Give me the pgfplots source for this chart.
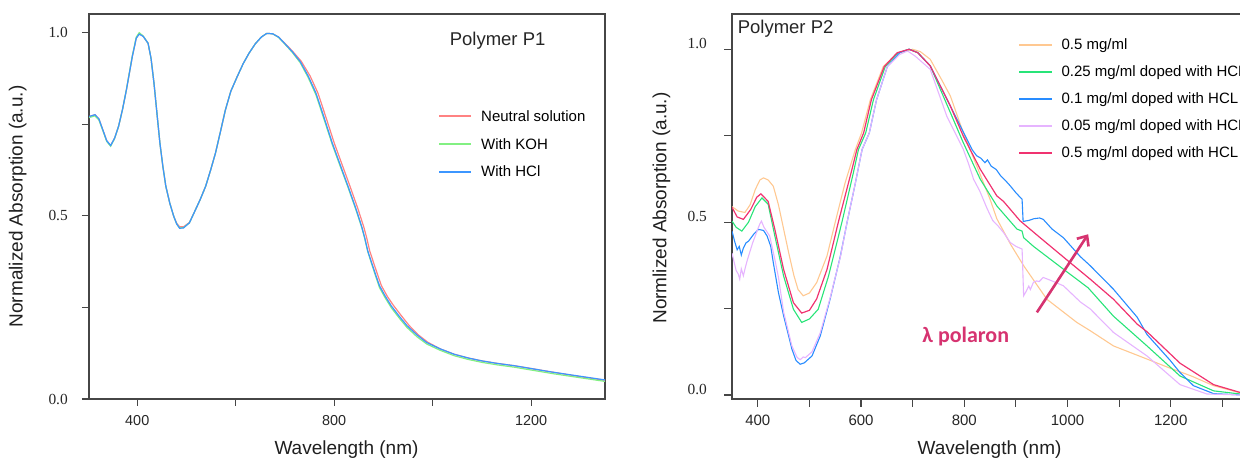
\documentclass[border=0pt]{standalone}
\usepackage{fontspec}
\setmainfont{Liberation Sans}
\newfontfamily\serifnum{Liberation Serif}
\newfontfamily\calib{Carlito}
\usepackage{pgfplots}
\pgfplotsset{compat=1.18}
\usetikzlibrary{arrows.meta}
\definecolor{pneutral}{RGB}{255,130,130}
\definecolor{pkoh}{RGB}{130,240,130}
\definecolor{phcl}{RGB}{60,150,255}
\definecolor{corange}{RGB}{255,200,145}
\definecolor{cgreen}{RGB}{40,228,120}
\definecolor{cblue}{RGB}{40,140,255}
\definecolor{cviolet}{RGB}{230,180,255}
\definecolor{cmag}{RGB}{240,50,112}
\definecolor{polar}{RGB}{214,51,112}
\definecolor{axc}{RGB}{70,70,70}
\pgfplotsset{
  base/.style={
    scale only axis,
    axis line style={axc, line width=0.6pt},
    tick style={axc, line width=0.6pt},
    tick align=outside, tick pos=left,
    minor tick num=0,
    xticklabel style={inner sep=0pt, anchor=north, text=black!85},
    yticklabel style={inner sep=0pt, anchor=east, text=black!85, font=\serifnum\fontsize{7.7}{9}\selectfont},
    label style={font=\fontsize{9.5}{11}\selectfont, text=black!88, inner sep=0pt},
    legend style={draw=none, fill=none, inner sep=0pt, outer sep=0pt,
      column sep=2.4pt, font=\fontsize{7.5}{9}\selectfont,
      cells={anchor=base west, inner sep=0pt, text height=5.4pt, text depth=1.5pt}},
    legend image code/.code={\draw[##1, line width=1pt] (0pt,2.6pt) -- (16.2pt,2.6pt);},
  }
}
\begin{document}
\begin{tikzpicture}[x=1pt,y=1pt]
% ---------------- Left panel ----------------
\begin{axis}[base,
  at={(44.5pt,30pt)}, anchor=south west,
  width=258pt, height=192.5pt,
  xmin=302, xmax=1350, ymin=0, ymax=1.051,
  major tick length=3.5pt,
  xtick={400,600,...,1200}, xticklabels={400,,800,,1200},
  ytick={0,0.25,0.5,0.75,1}, yticklabels={0.0,,0.5,,1.0},
  xticklabel style={font=\fontsize{7.2}{8.6}\selectfont},
  xticklabel shift=4.3pt, yticklabel shift=6.9pt,
  xlabel={Wavelength (nm)}, ylabel={Normalized Absorption (a.u.)},
  xlabel style={at={(axis description cs:0.499,-0.1325)}, anchor=center},
  ylabel style={at={(axis description cs:-0.138,0.5)}, anchor=center},
  legend style={at={(rel axis cs:0.6764,0.7592)}, anchor=north west, row sep=2.95pt},
]
\addplot[pneutral, line width=0.6pt] table {
302 0.771
314 0.776
322 0.765
330 0.735
338 0.705
346 0.692
354 0.712
362 0.744
370 0.79
378 0.844
390 0.935
398 0.985
404 0.998
412 0.99
422 0.971
428 0.93
434 0.862
440 0.78
446 0.699
452 0.635
458 0.581
466 0.535
474 0.499
480 0.48
486 0.47
494 0.47
506 0.482
516 0.51
528 0.545
539 0.581
549 0.625
559 0.672
569 0.73
579 0.789
590 0.84
603 0.880
615 0.915
627 0.944
640 0.97
652 0.988
663 0.998
675 0.997
687 0.988
699 0.972
715 0.950
733 0.922
751 0.882
767 0.835
783 0.77
800 0.699
816 0.64
832 0.581
848 0.52
860 0.47
866 0.44
872 0.405
880 0.372
888 0.34
896 0.309
908 0.28
920 0.256
936 0.228
952 0.201
970 0.176
990 0.155
1015 0.137
1044 0.122
1072 0.112
1100 0.104
1132 0.097
1165 0.091
1205 0.082
1245 0.073
1295 0.062
1350 0.051
};
\addlegendentry{Neutral solution}
\addplot[pkoh, line width=0.6pt] table {
302 0.768
314 0.773
322 0.762
330 0.733
338 0.703
346 0.690
354 0.711
362 0.744
370 0.79
378 0.845
390 0.937
398 0.988
404 1.0
412 0.991
422 0.971
428 0.93
434 0.862
440 0.78
446 0.699
452 0.635
458 0.581
466 0.535
474 0.499
480 0.478
486 0.467
494 0.468
506 0.481
516 0.51
528 0.545
539 0.581
549 0.625
559 0.672
569 0.73
579 0.789
590 0.84
603 0.880
615 0.915
627 0.944
640 0.97
652 0.988
663 0.998
675 0.997
687 0.987
699 0.970
715 0.946
731 0.918
747 0.878
763 0.830
779 0.765
796 0.695
812 0.636
828 0.578
844 0.517
856 0.468
862 0.438
868 0.403
876 0.369
884 0.336
892 0.304
904 0.275
916 0.249
932 0.221
948 0.195
968 0.170
988 0.150
1015 0.133
1044 0.118
1072 0.108
1100 0.100
1132 0.093
1165 0.087
1205 0.078
1245 0.069
1295 0.059
1350 0.048
};
\addlegendentry{With KOH}
\addplot[phcl, line width=0.6pt] table {
302 0.771
314 0.776
322 0.765
330 0.735
338 0.705
346 0.692
354 0.712
362 0.744
370 0.79
378 0.844
390 0.935
398 0.985
404 0.996
412 0.99
422 0.971
428 0.93
434 0.862
440 0.78
446 0.699
452 0.635
458 0.581
466 0.535
474 0.499
480 0.478
486 0.466
494 0.467
506 0.481
516 0.51
528 0.545
539 0.581
549 0.625
559 0.672
569 0.73
579 0.789
590 0.84
603 0.880
615 0.915
627 0.944
640 0.97
652 0.988
663 0.998
675 0.997
687 0.988
699 0.971
715 0.948
731 0.921
747 0.882
763 0.835
779 0.77
796 0.699
812 0.64
828 0.581
844 0.52
856 0.47
862 0.44
868 0.405
876 0.372
884 0.34
892 0.309
904 0.28
916 0.254
932 0.226
948 0.20
968 0.175
988 0.154
1015 0.137
1044 0.122
1072 0.112
1100 0.104
1132 0.097
1165 0.091
1205 0.082
1245 0.073
1295 0.063
1350 0.052
};
\addlegendentry{With HCl}
\node[font=\fontsize{9.25}{11}\selectfont, text=black!85, anchor=center, inner sep=0pt] at (rel axis cs:0.7919,0.9304) {Polymer P1};
\end{axis}
% ---------------- Right panel ----------------
\begin{axis}[base,
  at={(366pt,30pt)}, anchor=south west,
  width=255.5pt, height=192.5pt,
  xmin=350, xmax=1340, ymin=-0.0115, ymax=1.102,
  major tick length=4pt,
  xtick={400,500,...,1300}, xticklabels={400,,600,,800,,1000,,1200,},
  ytick={0,0.25,0.5,0.75,1}, yticklabels={0.0,,0.5,,1.0},
  xticklabel style={font=\fontsize{7.5}{9}\selectfont},
  yticklabel style={yshift=2.8pt},
  xticklabel shift=3.8pt, yticklabel shift=8.4pt,
  xlabel={Wavelength (nm)}, ylabel={Normlized Absorption (a.u.)},
  xlabel style={at={(axis description cs:0.5039,-0.1325)}, anchor=center},
  ylabel style={at={(axis description cs:-0.138,0.496)}, anchor=center},
  legend style={at={(rel axis cs:0.5603,0.9452)}, anchor=north west, row sep=2.6pt},
]
\addplot[corange, line width=0.55pt] table {
350 0.545
362 0.532
375 0.528
385 0.55
395 0.594
404 0.622
411 0.628
420 0.622
430 0.604
440 0.55
450 0.48
460 0.41
470 0.345
478 0.305
488 0.287
500 0.295
514 0.325
534 0.402
550 0.5
569 0.613
589 0.71
601 0.758
618 0.854
643 0.95
670 0.988
700 1.0
715 0.993
734 0.971
755 0.915
773 0.865
798 0.759
824 0.663
850 0.566
863 0.51
890 0.435
915 0.374
960 0.277
1018 0.21
1044 0.186
1089 0.142
1154 0.104
1193 0.081
1240 0.055
1283 0.027
1340 0.004
};
\addlegendentry{0.5 mg/ml}
\addplot[cgreen, line width=0.55pt] table {
350 0.503
358 0.485
369 0.474
382 0.50
395 0.545
408 0.57
420 0.552
433 0.46
450 0.344
469 0.248
485 0.21
500 0.22
517 0.248
537 0.344
563 0.5
585 0.642
595 0.71
609 0.758
624 0.854
647 0.95
672 0.99
693 1.0
710 0.99
734 0.952
773 0.817
798 0.73
831 0.624
863 0.547
902 0.48
912 0.474
915 0.455
934 0.43
992 0.364
1040 0.31
1089 0.228
1154 0.142
1218 0.055
1283 0.012
1340 0.002
};
\addlegendentry{0.25 mg/ml doped with HCL}
\addplot[cblue, line width=0.55pt] table {
350 0.474
355 0.445
360 0.42
364 0.43
368 0.405
372 0.425
377 0.44
382 0.445
392 0.465
401 0.479
411 0.476
418 0.46
425 0.43
430 0.383
440 0.296
450 0.229
466 0.133
474 0.10
482 0.089
490 0.093
505 0.113
521 0.171
540 0.277
560 0.402
573 0.5
589 0.613
602 0.71
616 0.758
630 0.854
651 0.95
675 0.99
693 1.0
710 0.99
734 0.952
773 0.836
805 0.74
815 0.71
824 0.692
832 0.685
840 0.672
845 0.68
852 0.662
862 0.652
870 0.635
880 0.62
889 0.605
900 0.585
912 0.566
914 0.502
925 0.505
935 0.51
946 0.512
953 0.508
970 0.48
992 0.455
1025 0.40
1044 0.374
1089 0.306
1135 0.225
1154 0.175
1199 0.1
1218 0.065
1244 0.027
1283 0.004
1340 0.0
};
\addlegendentry{0.1 mg/ml doped with HCL}
\addplot[cviolet, line width=0.55pt] table {
350 0.41
354 0.385
358 0.36
362 0.35
365 0.335
368 0.365
372 0.345
376 0.37
380 0.392
390 0.44
400 0.48
404 0.495
407 0.503
412 0.485
423 0.46
433 0.392
440 0.34
450 0.24
466 0.142
476 0.109
482 0.102
488 0.11
492 0.108
505 0.125
521 0.18
540 0.28
560 0.40
573 0.5
589 0.613
602 0.71
616 0.758
630 0.854
651 0.95
675 0.985
690 0.995
705 0.98
734 0.942
766 0.807
780 0.765
798 0.711
808 0.67
818 0.624
830 0.59
844 0.54
855 0.505
866 0.488
876 0.47
889 0.441
900 0.43
912 0.422
915 0.287
920 0.30
925 0.315
928 0.305
934 0.326
940 0.33
945 0.328
953 0.34
970 0.33
992 0.316
1025 0.269
1044 0.249
1089 0.181
1154 0.113
1218 0.03
1270 0.003
1340 0.0
};
\addlegendentry{0.05 mg/ml doped with HCL}
\addplot[cmag, line width=0.6pt] table {
350 0.543
360 0.515
372 0.508
386 0.536
398 0.572
406 0.582
420 0.56
433 0.479
450 0.363
469 0.267
485 0.237
500 0.245
514 0.278
534 0.363
556 0.5
579 0.633
592 0.71
605 0.758
620 0.854
645 0.95
670 0.99
693 1.0
710 0.99
734 0.952
773 0.836
798 0.749
831 0.653
863 0.576
876 0.56
908 0.504
947 0.455
1005 0.383
1044 0.335
1089 0.277
1135 0.205
1154 0.183
1218 0.092
1283 0.03
1340 0.005
};
\addlegendentry{0.5 mg/ml doped with HCL}
\node[font=\fontsize{9.25}{11}\selectfont, text=black!85, anchor=center, inner sep=0pt] at (rel axis cs:0.1049,0.9616) {Polymer P2};
\draw[polar, line width=1.3pt, -{Straight Barb[length=4pt,width=7pt]}] (axis cs:940.7,0.239) -- (axis cs:1040,0.465);
\node[anchor=base west, inner sep=0pt, text=polar, font=\calib\bfseries\fontsize{11}{13}\selectfont] at (axis cs:718,0.152) {λ polaron};
\end{axis}
\pgfresetboundingbox
\path[use as bounding box] (0pt,0pt) rectangle (620pt,229.5pt);
\end{tikzpicture}
\end{document}
